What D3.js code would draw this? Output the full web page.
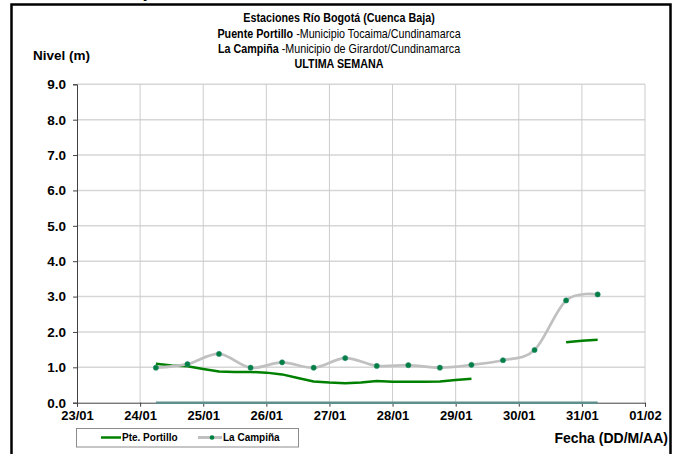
<!DOCTYPE html>
<html>
<head>
<meta charset="utf-8">
<script src="https://cdn.jsdelivr.net/npm/d3@7"></script>
<style>
  body { margin: 0; background: #fff; }
  svg { display: block; font-family: "Liberation Sans", Arial, sans-serif; }
</style>
</head>
<body>
<div class="wrapper"></div>
<script>
var parseTime = d3.timeParse("%d/%m/%Y %H:%M");

// La Campiña (cada 12 horas)
var campinaDates = ["24/01/2013 06:00", "24/01/2013 18:00", "25/01/2013 06:00", "25/01/2013 18:00",
  "26/01/2013 06:00", "26/01/2013 18:00", "27/01/2013 06:00", "27/01/2013 18:00",
  "28/01/2013 06:00", "28/01/2013 18:00", "29/01/2013 06:00", "29/01/2013 18:00",
  "30/01/2013 06:00", "30/01/2013 18:00", "31/01/2013 06:00"];
var campinaValues = [0.99, 1.09, 1.38, 0.99, 1.14, 0.99, 1.26, 1.04, 1.06, 0.99, 1.07, 1.20, 1.49, 2.89, 3.06];

// serie en cero (sin leyenda)
var ceroDates = ["24/01/2013 06:00", "31/01/2013 06:00"];
var ceroValues = [0, 0];

// Pte. Portillo (cada 6 horas, con hueco sin datos)
var portilloDates = ["24/01/2013 06:00", "24/01/2013 12:00", "24/01/2013 18:00", "25/01/2013 00:00",
  "25/01/2013 06:00", "25/01/2013 12:00", "25/01/2013 18:00", "26/01/2013 00:00",
  "26/01/2013 06:00", "26/01/2013 12:00", "26/01/2013 18:00", "27/01/2013 00:00",
  "27/01/2013 06:00", "27/01/2013 12:00", "27/01/2013 18:00", "28/01/2013 00:00",
  "28/01/2013 06:00", "28/01/2013 12:00", "28/01/2013 18:00", "29/01/2013 00:00",
  "29/01/2013 06:00", "30/01/2013 00:00",
  "30/01/2013 18:00", "31/01/2013 00:00", "31/01/2013 06:00"];
var portilloValues = [1.10, 1.05, 1.03, 0.95, 0.88, 0.87, 0.87, 0.85,
  0.80, 0.70, 0.60, 0.57, 0.55, 0.57, 0.61, 0.59,
  0.59, 0.59, 0.60, 0.64, 0.68, null,
  1.71, 1.75, 1.78];

var yTicks = [0, 1, 2, 3, 4, 5, 6, 7, 8, 9];
var titleLines = [
  [["Estaciones Río Bogotá (Cuenca Baja)", "bold"]],
  [["Puente Portillo", "bold"], [" -Municipio Tocaima/Cundinamarca", "normal"]],
  [["La Campiña", "bold"], [" -Municipio de Girardot/Cundinamarca", "normal"]],
  [["ULTIMA SEMANA", "bold"]]
];

var width = 679, height = 454;
var svg = d3.select(".wrapper").append("svg")
  .attr("width", width)
  .attr("height", height);

var x = d3.scaleTime()
  .domain([parseTime("23/01/2013 00:00"), parseTime("01/02/2013 00:00")])
  .range([77, 645]);
var y = d3.scaleLinear()
  .domain([0, 9])
  .range([402.7, 84.3]);
var xTicks = d3.timeDay.range(x.domain()[0], d3.timeDay.offset(x.domain()[1], 1));

// marco exterior
svg.append("rect")
  .attr("x", 11.5).attr("y", 4.5)
  .attr("width", 659).attr("height", 470)
  .attr("fill", "none")
  .attr("stroke", "#000")
  .attr("stroke-width", 2.5);

// trozo de texto cortado arriba
svg.append("text")
  .attr("x", 143).attr("y", -2)
  .attr("font-size", 14)
  .attr("font-weight", "bold")
  .text("y");

// titulo (letra algo estrecha)
var title = svg.append("g")
  .attr("text-anchor", "middle")
  .attr("font-size", 12.5)
  .attr("transform", "translate(339,0) scale(0.86,1)");
titleLines.forEach(function(parts, i) {
  var t = title.append("text")
    .attr("x", 0)
    .attr("y", 22.5 + i * 15.3);
  parts.forEach(function(p) {
    t.append("tspan").attr("font-weight", p[1]).text(p[0]);
  });
});

svg.append("text")
  .attr("x", 33).attr("y", 60)
  .attr("font-size", 13.5).attr("font-weight", "bold")
  .text("Nivel (m)");

// rejilla
var grid = svg.append("g");
grid.selectAll(".hgrid")
  .data(yTicks.slice(1))
  .enter().append("line")
    .attr("x1", x.range()[0]).attr("x2", x.range()[1])
    .attr("y1", function(d) { return y(d); })
    .attr("y2", function(d) { return y(d); })
    .attr("stroke", "#d6d6d6")
    .attr("stroke-width", 1.5);
grid.selectAll(".vgrid")
  .data(xTicks.slice(1))
  .enter().append("line")
    .attr("x1", function(d) { return x(d); })
    .attr("x2", function(d) { return x(d); })
    .attr("y1", y(9)).attr("y2", y(0))
    .attr("stroke", "#cccccc")
    .attr("stroke-width", 1);

// ejes
var xAxis = svg.append("g")
  .attr("transform", "translate(0," + y(0) + ")")
  .call(d3.axisBottom(x).tickValues(xTicks).tickFormat(d3.timeFormat("%d/%m")).tickSizeOuter(0).tickSize(4));
xAxis.select(".domain").attr("stroke", "#404040");
xAxis.selectAll(".tick line").attr("stroke", "#404040");
xAxis.selectAll("text")
  .attr("font-size", 13).attr("font-weight", "bold")
  .attr("font-family", "Liberation Sans, Arial, sans-serif")
  .attr("fill", "#000")
  .attr("dy", "0.8em");

var yAxis = svg.append("g")
  .attr("transform", "translate(" + x.range()[0] + ",0)")
  .call(d3.axisLeft(y).tickValues(yTicks).tickFormat(d3.format(".1f")).tickSizeOuter(0).tickSize(4));
yAxis.select(".domain").attr("stroke", "#404040");
yAxis.selectAll(".tick line").attr("stroke", "#404040");
yAxis.selectAll("text")
  .attr("font-size", 13.5).attr("font-weight", "bold")
  .attr("font-family", "Liberation Sans, Arial, sans-serif")
  .attr("fill", "#000")
  .attr("x", -11);

// series
var campina = campinaDates.map(function(d, i) { return {date: parseTime(d), value: campinaValues[i]}; });
var cero = ceroDates.map(function(d, i) { return {date: parseTime(d), value: ceroValues[i]}; });
var portillo = portilloDates.map(function(d, i) { return {date: parseTime(d), value: portilloValues[i]}; });

var line = d3.line()
  .defined(function(d) { return d.value != null; })
  .x(function(d) { return x(d.date); })
  .y(function(d) { return y(d.value); });

svg.append("path")
  .datum(cero)
  .attr("d", line)
  .attr("fill", "none")
  .attr("stroke", "#5f8f8c")
  .attr("stroke-width", 2.5);

svg.append("path")
  .datum(portillo)
  .attr("d", line)
  .attr("fill", "none")
  .attr("stroke", "#008000")
  .attr("stroke-width", 2.5);

svg.append("path")
  .datum(campina)
  .attr("d", line.curve(d3.curveCatmullRom.alpha(0)))
  .attr("fill", "none")
  .attr("stroke", "#c0c0c0")
  .attr("stroke-width", 2.7);

svg.selectAll(".dot")
  .data(campina)
  .enter().append("circle")
    .attr("cx", function(d) { return x(d.date); })
    .attr("cy", function(d) { return y(d.value); })
    .attr("r", 2.6)
    .attr("fill", "#008040")
    .attr("stroke", "#2e8b7a")
    .attr("stroke-width", 0.6);

// leyenda
var legend = svg.append("g");
legend.append("rect")
  .attr("x", 76.5).attr("y", 428.5)
  .attr("width", 222).attr("height", 18.5)
  .attr("fill", "#fff")
  .attr("stroke", "#8c8c8c");
legend.append("line")
  .attr("x1", 101).attr("x2", 121).attr("y1", 437.5).attr("y2", 437.5)
  .attr("stroke", "#008000").attr("stroke-width", 2.5);
legend.append("text")
  .attr("x", 122).attr("y", 441)
  .attr("font-size", 10).attr("font-weight", "bold")
  .text("Pte. Portillo");
legend.append("line")
  .attr("x1", 198).attr("x2", 222).attr("y1", 437.5).attr("y2", 437.5)
  .attr("stroke", "#c0c0c0").attr("stroke-width", 3);
legend.append("circle")
  .attr("cx", 212).attr("cy", 437.5).attr("r", 2.3)
  .attr("fill", "#008040");
legend.append("text")
  .attr("x", 223).attr("y", 441)
  .attr("font-size", 10).attr("font-weight", "bold")
  .text("La Campiña");

svg.append("text")
  .attr("x", 668).attr("y", 443)
  .attr("text-anchor", "end")
  .attr("font-size", 14).attr("font-weight", "bold")
  .text("Fecha (DD/M/AA)");
</script>
</body>
</html>
